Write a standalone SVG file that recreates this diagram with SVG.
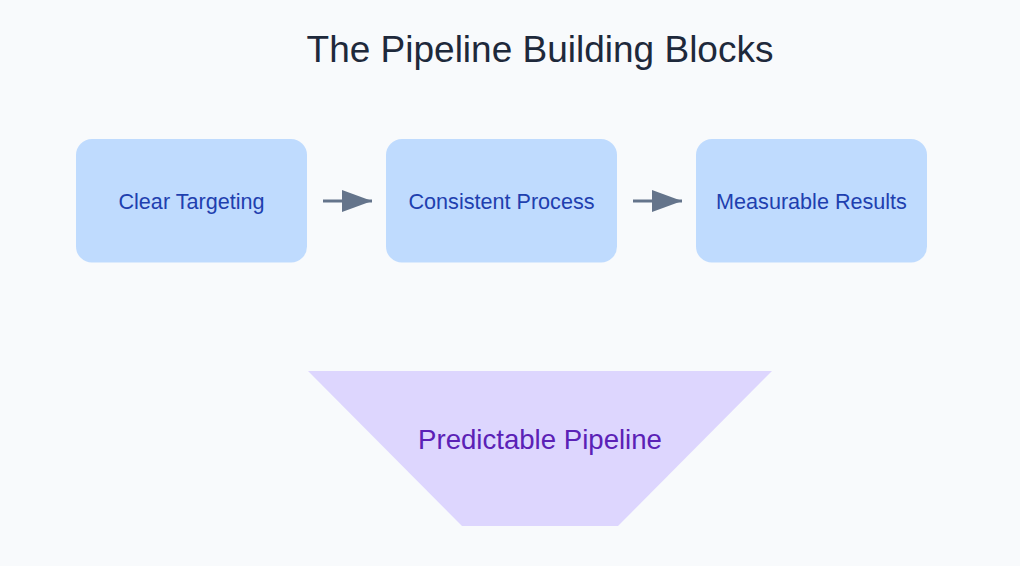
<svg xmlns="http://www.w3.org/2000/svg" width="1020" height="566" viewBox="0 0 1020 566">
<defs>
<style>
.box{fill:#bfdbfe;}
.lbl{font-family:"Liberation Sans",Arial,sans-serif;font-size:21.6px;fill:#1e40af;text-anchor:middle;}
.title{font-family:"Liberation Sans",Arial,sans-serif;font-size:37px;fill:#1e293b;text-anchor:middle;}
.plbl{font-family:"Liberation Sans",Arial,sans-serif;font-size:27.6px;fill:#5b21b6;text-anchor:middle;}
.conn{stroke:#64748b;stroke-width:3;fill:none;}
</style>
<marker id="ah" markerWidth="30" markerHeight="22" refX="30" refY="11" orient="auto" markerUnits="userSpaceOnUse">
<path d="M0,0 L30,11 L0,22 Z" fill="#64748b"/>
</marker>
</defs>
<rect width="1020" height="566" fill="#f8fafc"/>
<text class="title" x="540" y="62">The Pipeline Building Blocks</text>
<g id="node-targeting">
<rect class="box" x="76" y="139" width="231" height="123.5" rx="16"/>
<text class="lbl" x="191.5" y="209">Clear Targeting</text>
</g>
<g id="node-process">
<rect class="box" x="386" y="139" width="231" height="123.5" rx="16"/>
<text class="lbl" x="501.5" y="209">Consistent Process</text>
</g>
<g id="node-results">
<rect class="box" x="696" y="139" width="231" height="123.5" rx="16"/>
<text class="lbl" x="811.5" y="209">Measurable Results</text>
</g>
<g id="connectors">
<line class="conn" x1="323" y1="201" x2="372" y2="201" marker-end="url(#ah)"/>
<line class="conn" x1="633" y1="201" x2="682" y2="201" marker-end="url(#ah)"/>
</g>
<g id="node-pipeline">
<polygon points="308,371 772,371 618,526 462,526" fill="#ddd6fe"/>
<text class="plbl" x="540" y="449">Predictable Pipeline</text>
</g>
</svg>
